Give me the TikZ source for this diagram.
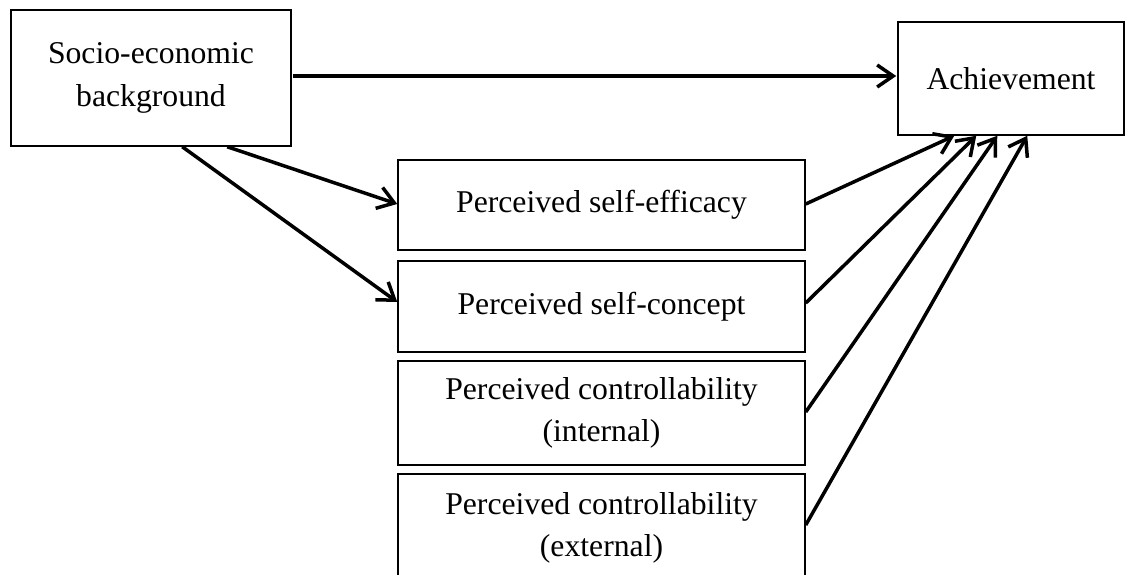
\documentclass[tikz,border=0pt]{standalone}
\usepackage{fontspec}
\setmainfont{Liberation Serif}
\usetikzlibrary{arrows.meta,calc}
\begin{document}
\begin{tikzpicture}[x=1pt,y=-1pt,
  box/.style={draw,line width=1.5pt,inner sep=0pt,align=center,
    font=\fontsize{31.7}{42.5}\selectfont},
  arr/.style={line width=3.5pt,-{Straight Barb[length=16pt,width=22pt]}}]
\useasboundingbox (0,0) rectangle (1125,575);
\begin{scope}
\clip (0,0) rectangle (1125,575);
\node[box,minimum width=280pt,minimum height=136pt] (socio) at (151,78) {Socio-economic\\background};
\node[box,minimum width=226pt,minimum height=113pt] (ach) at (1011,78.5) {Achievement};
\node[box,minimum width=407pt,minimum height=90pt] (eff) at (601.5,205) {Perceived self-efficacy};
\node[box,minimum width=407pt,minimum height=91pt] (con) at (601.5,306.5) {Perceived self-concept};
\node[box,minimum width=407pt,minimum height=104pt] (int) at (601.5,413) {Perceived controllability\\(internal)};
\node[box,minimum width=407pt,minimum height=108pt] (ext) at (601.5,528) {Perceived controllability\\(external)};

\draw[arr] ($(socio.east)+(1,-2)$) -- ($(ach.west)+(-1,-2.5)$);
\draw[arr] ($(socio.south west)+(217,0)$) -- ($(eff.west)+(0,-1)$);
\draw[arr] ($(socio.south west)+(172,0)$) -- ($(con.west)+(0,-4.5)$);
\draw[arr] ($(eff.east)+(0,-1)$) -- ($(ach.south west)+(57,0)$);
\draw[arr] ($(con.east)+(0,-3.5)$) -- ($(ach.south west)+(79,0)$);
\draw[arr] ($(int.east)+(0,-1)$) -- ($(ach.south west)+(100,0)$);
\draw[arr] ($(ext.east)+(0,-3)$) -- ($(ach.south west)+(130,0)$);
\end{scope}
\end{tikzpicture}
\end{document}
